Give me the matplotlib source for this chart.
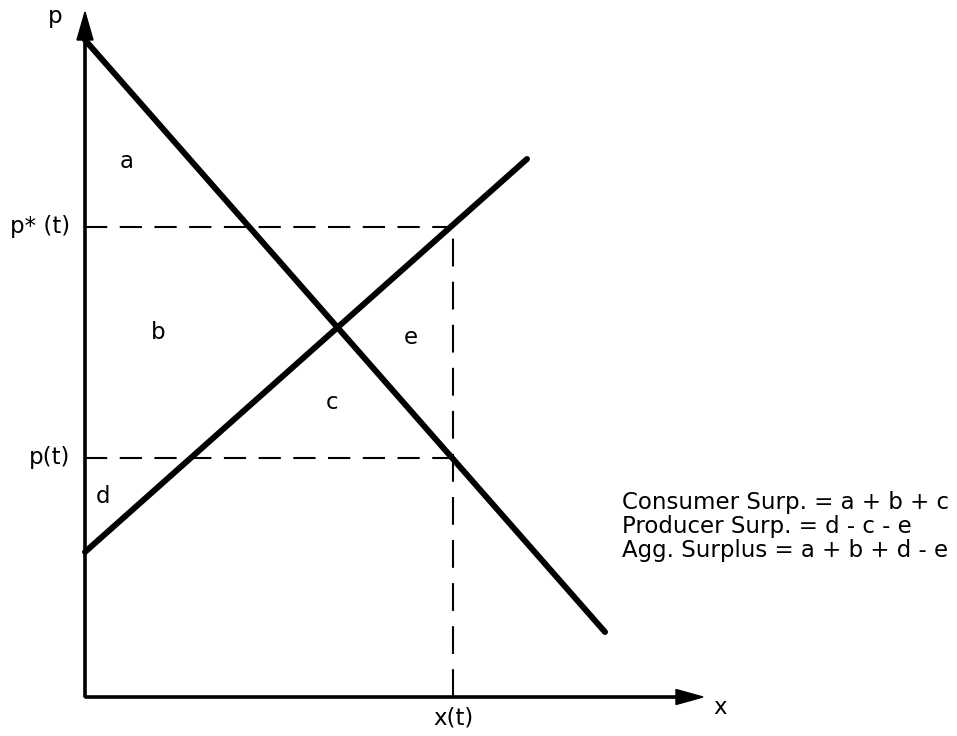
import numpy as np
import matplotlib.pyplot as plt

plt.rcParams['font.family'] = ['DejaVu Sans']
plt.rcParams['lines.scale_dashes'] = False

# curves, in plot units (origin at the axes corner)
demand_x = [0.0, 5.20]
demand_p = [6.57, 0.65]
supply_x = [0.0, 4.42]
supply_p = [1.45, 5.38]

# quota quantity and the two prices
x_t = 3.68
p_star = 4.70
p_t = 2.39

summary_lines = ['Consumer Surp. = a + b + c',
                 'Producer Surp. = d - c - e',
                 'Agg. Surplus = a + b + d - e']

fig = plt.figure(figsize=(9.57, 7.36), dpi=100)
ax = fig.add_axes([0, 0, 1, 1])
ax.set_xlim(-0.85, 8.72)
ax.set_ylim(-0.39, 6.97)
ax.set_aspect('equal')
ax.axis('off')

# axes with arrow heads
ax.arrow(0, 0, 0, 6.85, width=0.022, head_width=0.16, head_length=0.28,
         length_includes_head=True, fc='k', ec='k')
ax.arrow(0, 0, 6.18, 0, width=0.022, head_width=0.15, head_length=0.27,
         length_includes_head=True, fc='k', ec='k')

# demand and supply
ax.plot(demand_x, demand_p, color='k', lw=4.3, solid_capstyle='round')
ax.plot(supply_x, supply_p, color='k', lw=4.3, solid_capstyle='round')

# dashed guides
ax.plot([0, x_t], [p_star, p_star], color='k', lw=1.5, dashes=(16, 9))
ax.plot([0, x_t], [p_t, p_t], color='k', lw=1.5, dashes=(16, 9))
ax.plot([x_t, x_t], [0, p_star], color='k', lw=1.5, dashes=(20, 11))

fs = 16.5
ax.text(-0.30, 6.80, 'p', fontsize=fs, ha='center', va='center')
ax.text(6.35, -0.10, 'x', fontsize=fs, ha='center', va='center')
ax.text(-0.15, p_star, 'p* (t)', fontsize=fs, ha='right', va='center')
ax.text(-0.15, p_t, 'p(t)', fontsize=fs, ha='right', va='center')
ax.text(x_t, -0.21, 'x(t)', fontsize=fs, ha='center', va='center')

# region labels
ax.text(0.42, 5.35, 'a', fontsize=fs, ha='center', va='center')
ax.text(0.73, 3.64, 'b', fontsize=fs, ha='center', va='center')
ax.text(2.47, 2.94, 'c', fontsize=fs, ha='center', va='center')
ax.text(0.18, 2.00, 'd', fontsize=fs, ha='center', va='center')
ax.text(3.26, 3.59, 'e', fontsize=fs, ha='center', va='center')

for i, line in enumerate(summary_lines):
    ax.text(5.37, 1.94 - 0.24 * i, line, fontsize=fs, ha='left', va='center')

fig.savefig('out.png', dpi=100)
